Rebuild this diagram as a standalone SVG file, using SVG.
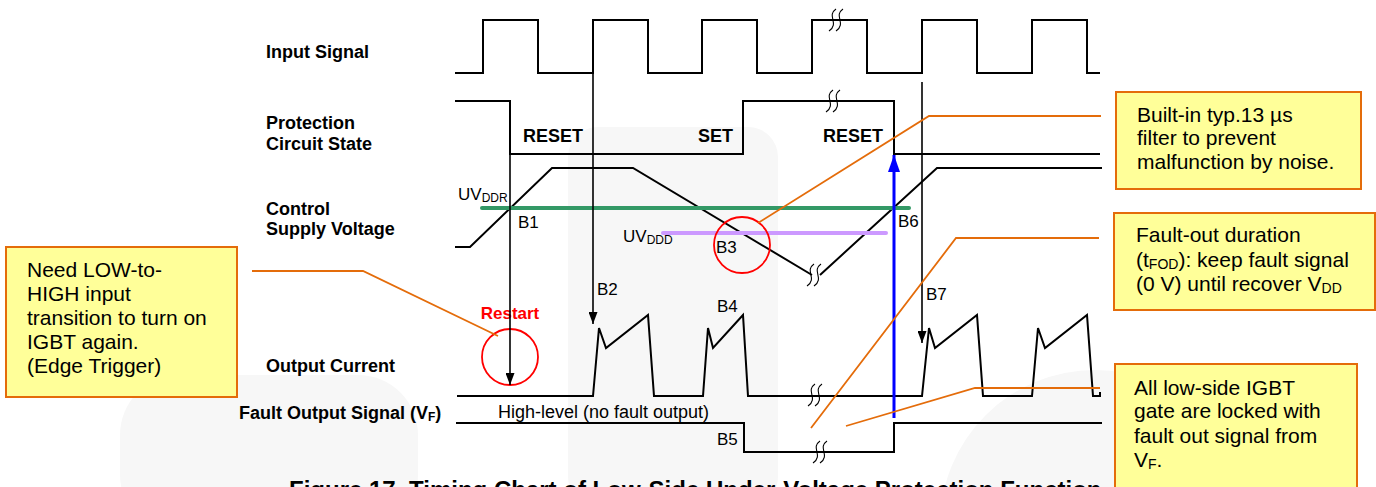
<svg xmlns="http://www.w3.org/2000/svg" width="1376" height="487" viewBox="0 0 1376 487">
<defs>
<style>
.lbl{font-family:"Liberation Sans",Arial,sans-serif;font-size:18px;font-weight:bold;fill:#000}
.t{font-family:"Liberation Sans",Arial,sans-serif;font-size:17px;fill:#000}
.hl{font-family:"Liberation Sans",Arial,sans-serif;font-size:18px;fill:#000}
.note{font-family:"Liberation Sans",Arial,sans-serif;font-size:21px;fill:#000}
.cap{font-family:"Liberation Sans",Arial,sans-serif;font-size:24px;font-weight:bold;fill:#000}
.w{fill:none;stroke:#000;stroke-width:2}
.v{fill:none;stroke:#000;stroke-width:1.6}
.box{fill:#ffff99;stroke:#e46c0a;stroke-width:2}
.lead{fill:none;stroke:#e46c0a;stroke-width:1.8}
.brk{fill:none;stroke:#000;stroke-width:1.1}
.ring{fill:none;stroke:#ff0000;stroke-width:1.8}
.wm{fill:#f7f7f7}
</style>
<marker id="ah" viewBox="0 0 12 9" refX="12" refY="4.5" markerWidth="12" markerHeight="9" markerUnits="userSpaceOnUse" orient="auto">
<path d="M0,0 L12,4.5 L0,9 z" fill="#000"/>
</marker>
<marker id="ahb" viewBox="0 0 17 12" refX="17" refY="6" markerWidth="17" markerHeight="12" markerUnits="userSpaceOnUse" orient="auto">
<path d="M0,0 L17,6 L0,12 z" fill="#0000ff"/>
</marker>
<g id="brkmark">
<path class="brk" d="M1,-11 C-9,-4 5,3 -6,11"/>
<path class="brk" d="M8,-11 C-2,-4 12,3 1,11"/>
</g>
</defs>

<g id="watermark">
<rect class="wm" x="568" y="127" width="210" height="380" rx="30"/>
<rect class="wm" x="120" y="375" width="298" height="160" rx="60"/>
<circle class="wm" cx="1095" cy="525" r="155"/>
</g>

<g id="labels">
<text class="lbl" x="266" y="58">Input Signal</text>
<text class="lbl" x="266" y="129">Protection</text>
<text class="lbl" x="266" y="150">Circuit State</text>
<text class="lbl" x="266" y="215">Control</text>
<text class="lbl" x="266" y="235">Supply Voltage</text>
<text class="lbl" x="266" y="372">Output Current</text>
<text class="lbl" x="239" y="419">Fault Output Signal (V<tspan font-size="12" dy="2">F</tspan><tspan dy="-2">)</tspan></text>
</g>

<g id="input-signal">
<path class="w" d="M455,73 H483 V20 H538 V73 H593 V20 H648 V73 H702 V20 H757 V73 H812 V20 H867 V73 H922 V20 H977 V73 H1032 V20 H1087 V73 H1100"/>
<use href="#brkmark" x="835" y="20"/>
</g>

<g id="protection-state">
<path class="w" d="M455,101 H510 V154 H743 V101 H894 V154 H1100"/>
<use href="#brkmark" x="832" y="101"/>
<text class="lbl" x="523" y="142">RESET</text>
<text class="lbl" x="698" y="142">SET</text>
<text class="lbl" x="823" y="142">RESET</text>
</g>

<g id="supply-voltage">
<path class="w" d="M455,247 H470 L552,168 H633 L812,275 M820,275 L937,168 H1102"/>
<use href="#brkmark" x="813" y="275"/>
<path d="M482,208 H909" stroke="#339966" stroke-width="4" stroke-linecap="round" fill="none"/>
<path d="M663,233 H886" stroke="#cc99ff" stroke-width="4" stroke-linecap="round" fill="none"/>
<text class="t" x="458" y="200">UV<tspan font-size="12" dy="2">DDR</tspan></text>
<text class="t" x="623" y="242">UV<tspan font-size="12" dy="2">DDD</tspan></text>
<text class="t" x="518" y="228">B1</text>
<text class="t" x="716" y="253">B3</text>
<text class="t" x="898" y="227">B6</text>
<circle class="ring" cx="742" cy="245" r="28"/>
</g>

<g id="output-current">
<path class="w" d="M457,396 H593 L599,328 L606,348 L648,315 L654,396 H703 L708,328 L713,348 L743,315 L748,396 H922 L929,328 L935,348 L977,315 L983,396 H1032 L1038,328 L1045,348 L1087,315 L1093,396 H1100 V392"/>
<use href="#brkmark" x="814" y="395"/>
<text class="t" x="597" y="295">B2</text>
<text class="t" x="717" y="312">B4</text>
<text class="t" x="926" y="300">B7</text>
<text x="510" y="319" text-anchor="middle" font-family="Liberation Sans,Arial,sans-serif" font-size="17" font-weight="bold" fill="#ff0000">Restart</text>
<circle class="ring" cx="510" cy="357" r="28"/>
</g>

<g id="fault-output">
<path class="w" d="M456,423 H744 V452 H894 V423 H1102"/>
<use href="#brkmark" x="819" y="452"/>
<text class="hl" x="498" y="418">High-level (no fault output)</text>
<text class="t" x="717" y="445">B5</text>
</g>

<g id="connectors">
<path class="v" d="M510,154 V385" marker-end="url(#ah)"/>
<path class="v" d="M593,73 V324" marker-end="url(#ah)"/>
<path class="v" d="M922,82 V343" marker-end="url(#ah)"/>
<path d="M894,418 V155" stroke="#0000ff" stroke-width="3" fill="none" marker-end="url(#ahb)"/>
<path class="lead" d="M252,271 H363 L498,336"/>
<path class="lead" d="M758,223 L929,116 H1101"/>
<path class="lead" d="M811,428 L956,238 H1099"/>
<path class="lead" d="M846,426 L975,388 H1100"/>
</g>

<g id="caption">
<text class="cap" x="289" y="498">Figure 17. Timing Chart of Low-Side Under-Voltage Protection Function</text>
</g>

<g id="note-filter">
<rect class="box" x="1116" y="92" width="245" height="97"/>
<text class="note" x="1137" y="122">Built-in typ.13 µs</text>
<text class="note" x="1137" y="145">filter to prevent</text>
<text class="note" x="1137" y="169">malfunction by noise.</text>
</g>

<g id="note-fod">
<rect class="box" x="1114" y="213" width="261" height="97"/>
<text class="note" x="1136" y="242">Fault-out duration</text>
<text class="note" x="1136" y="267">(t<tspan font-size="14" dy="2">FOD</tspan><tspan dy="-2">): keep fault signal</tspan></text>
<text class="note" x="1136" y="291">(0 V) until recover V<tspan font-size="14" dy="2">DD</tspan></text>
</g>

<g id="note-lock">
<rect class="box" x="1115" y="364" width="242" height="130"/>
<text class="note" x="1134" y="395">All low-side IGBT</text>
<text class="note" x="1134" y="418">gate are locked with</text>
<text class="note" x="1134" y="443">fault out signal from</text>
<text class="note" x="1134" y="467">V<tspan font-size="14" dy="2">F</tspan><tspan dy="-2">.</tspan></text>
</g>

<g id="note-restart">
<rect class="box" x="6" y="247" width="231" height="150"/>
<text class="note" x="27" y="277">Need LOW-to-</text>
<text class="note" x="27" y="301">HIGH input</text>
<text class="note" x="27" y="325">transition to turn on</text>
<text class="note" x="27" y="349">IGBT again.</text>
<text class="note" x="27" y="373">(Edge Trigger)</text>
</g>
</svg>
